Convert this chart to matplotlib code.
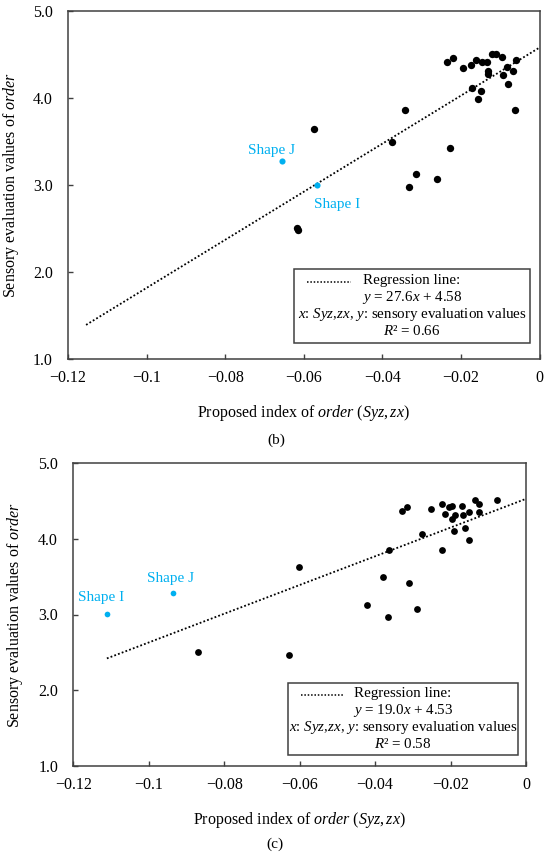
import matplotlib
matplotlib.use("Agg")
import matplotlib.pyplot as plt
from matplotlib.patches import Rectangle
from matplotlib.lines import Line2D
import numpy as np

plt.rcParams["font.family"] = ["Liberation Serif", "DejaVu Serif"]
plt.rcParams["mathtext.fontset"] = "custom"
plt.rcParams["mathtext.rm"] = "Liberation Serif"
plt.rcParams["mathtext.it"] = "Liberation Serif:italic"

BLUE = "#00B0F0"
SPINE = "#404040"

# ---- panel (b) data ----
b_x = [-0.0236, -0.0219, -0.0194, -0.0174, -0.0162, -0.0146, -0.0133, -0.0121,
       -0.0111, -0.0096, -0.0060, -0.0083, -0.0067, -0.0130, -0.0130, -0.0092,
       -0.0171, -0.0150, -0.0156, -0.0080, -0.0062, -0.0342, -0.0573, -0.0376,
       -0.0229, -0.0314, -0.0262, -0.0332, -0.0618, -0.0615]
b_y = [4.42, 4.46, 4.34, 4.38, 4.44, 4.41, 4.41, 4.51,
       4.51, 4.47, 4.44, 4.36, 4.31, 4.31, 4.28, 4.26,
       4.12, 4.08, 3.99, 4.16, 3.86, 3.86, 3.64, 3.49,
       3.43, 3.13, 3.07, 2.98, 2.51, 2.48]
b_shapes = ["Shape J", "Shape I"]
b_shape_x = [-0.0655, -0.0566]
b_shape_y = [3.28, 3.00]
b_slope, b_icept, b_r2 = 27.6, 4.58, 0.66
b_line_x = [-0.1154, 0.0]

# ---- panel (c) data ----
c_x = [-0.0328, -0.0315, -0.0252, -0.0223, -0.0203, -0.0196, -0.0170, -0.0135,
       -0.0124, -0.0078, -0.0216, -0.0189, -0.0196, -0.0167, -0.0150, -0.0124,
       -0.0191, -0.0163, -0.0150, -0.0222, -0.0275, -0.0362, -0.0378, -0.0311,
       -0.0366, -0.0288, -0.0422, -0.0601, -0.0870, -0.0627]
c_y = [4.37, 4.42, 4.40, 4.46, 4.42, 4.44, 4.44, 4.51,
       4.46, 4.51, 4.33, 4.31, 4.26, 4.31, 4.35, 4.35,
       4.11, 4.15, 3.99, 3.85, 4.06, 3.85, 3.49, 3.42,
       2.97, 3.07, 3.13, 3.63, 2.50, 2.47]
c_shapes = ["Shape I", "Shape J"]
c_shape_x = [-0.1110, -0.0936]
c_shape_y = [3.01, 3.28]
c_slope, c_icept, c_r2 = 19.0, 4.53, 0.58
c_line_x = [-0.1111, 0.0]

x_ticks = [-0.12, -0.1, -0.08, -0.06, -0.04, -0.02, 0]
x_labels = ["\u22120.12", "\u22120.1", "\u22120.08", "\u22120.06", "\u22120.04", "\u22120.02", "0"]
y_ticks = [1.0, 2.0, 3.0, 4.0, 5.0]
y_labels = ["1.0", "2.0", "3.0", "4.0", "5.0"]


def panel(ax, xs, ys, names, sx, sy, offsets, slope, icept, r2, line_x,
          dot_s, box, xlab_y, ylab_x):
    lx = np.array(line_x)
    ax.plot(lx, slope * lx + icept, color="black", lw=1.3,
            linestyle=(0, (1, 1.2)), zorder=2)
    ax.scatter(xs, ys, s=dot_s, color="black", zorder=3, linewidths=0)
    ax.scatter(sx, sy, s=dot_s * 0.7, color=BLUE, zorder=3, linewidths=0)
    for name, px, py, off in zip(names, sx, sy, offsets):
        ax.annotate(name, (px, py), xytext=off, textcoords="offset points",
                    ha="center", va="center", color=BLUE, fontsize=11)

    ax.set_xlim(-0.12, 0)
    ax.set_ylim(1.0, 5.0)
    ax.set_xticks(x_ticks)
    ax.set_xticklabels(x_labels)
    ax.set_yticks(y_ticks)
    ax.set_yticklabels(y_labels)
    ax.tick_params(direction="in", length=3.5, width=1, color=SPINE,
                   labelsize=11.5)
    ax.tick_params(axis="x", pad=8)
    ax.tick_params(axis="y", pad=11)
    for sp in ax.spines.values():
        sp.set_color(SPINE)
        sp.set_linewidth(1.1)

    ax.set_xlabel(r"Proposed index of $order$ $\mathit{(Syz,zx)}$", fontsize=11.5)
    ax.set_ylabel(r"Sensory evaluation values of $order$", fontsize=11.5)
    ax.xaxis.set_label_coords(0.5, xlab_y)
    ax.yaxis.set_label_coords(ylab_x, 0.5)

    # regression legend box
    x0, y0, x1, y1 = box
    ax.add_patch(Rectangle((x0, y0), x1 - x0, y1 - y0, transform=ax.transAxes,
                           facecolor="white", edgecolor=SPINE, lw=1.1, zorder=4))
    h = y1 - y0
    cx = (x0 + x1) / 2
    rows = [y1 - h * 0.15, y1 - h * 0.39, y1 - h * 0.62, y1 - h * 0.84]
    ax.add_line(Line2D([x0 + 0.027, x0 + 0.122], [rows[0] - 0.005, rows[0] - 0.005],
                       transform=ax.transAxes, color="black", lw=1.1,
                       linestyle=(0, (1, 1.2)), zorder=5))
    ax.text(x0 + 0.146, rows[0], "Regression line:", transform=ax.transAxes,
            ha="left", va="center", fontsize=10.8, zorder=5)
    ax.text(cx, rows[1], r"$y$ = %.1f$x$ + %.2f" % (slope, icept),
            transform=ax.transAxes, ha="center", va="center", fontsize=10.8, zorder=5)
    ax.text(cx, rows[2], r"$x$: $Syz{,}zx$, $y$: sensory evaluation values",
            transform=ax.transAxes, ha="center", va="center", fontsize=10.8, zorder=5)
    ax.text(cx, rows[3], r"$R$² = %.2f" % r2,
            transform=ax.transAxes, ha="center", va="center", fontsize=10.8, zorder=5)


fig = plt.figure(figsize=(5.5, 8.57), dpi=100)

ax_b = fig.add_axes([68 / 550, 1 - 359.3 / 857, 471.5 / 550, 348.3 / 857])
panel(ax_b, b_x, b_y, b_shapes, b_shape_x, b_shape_y,
      [(-7.6, 7.4), (14.4, -13.7)], b_slope, b_icept, b_r2, b_line_x,
      28, (0.479, 0.048, 0.980, 0.259), -0.125, -0.099)

ax_c = fig.add_axes([73.3 / 550, 1 - 765.7 / 857, 452.7 / 550, 302.4 / 857])
panel(ax_c, c_x, c_y, c_shapes, c_shape_x, c_shape_y,
      [(-4.5, 11.7), (-1.7, 10.6)], c_slope, c_icept, c_r2, c_line_x,
      24, (0.475, 0.035, 0.982, 0.2745), -0.146, -0.106)

fig.text(276.7 / 550, 1 - 440 / 857, "(b)", ha="center", va="center", fontsize=11)
fig.text(275 / 550, 1 - 844.3 / 857, "(c)", ha="center", va="center", fontsize=11)

fig.savefig("out.png", dpi=100, facecolor="white")
